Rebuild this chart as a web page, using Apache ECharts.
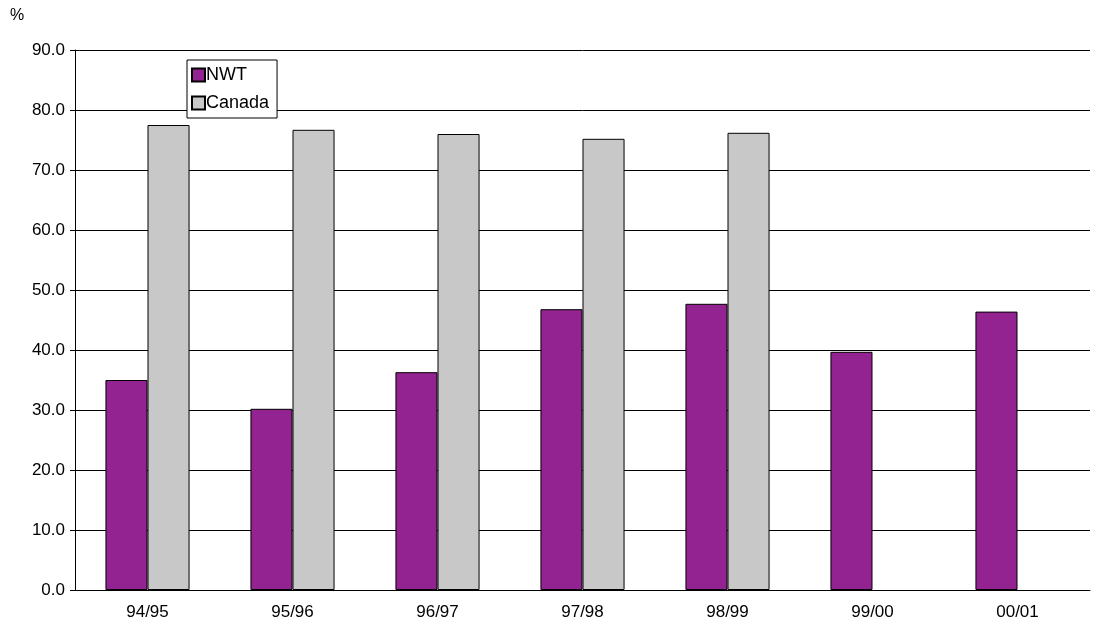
<!DOCTYPE html>
<html>
<head>
<meta charset="utf-8">
<script src="https://cdn.jsdelivr.net/npm/echarts@6/dist/echarts.min.js"></script>
<style>
  html, body { margin: 0; padding: 0; background: #fff; }
  #chart { width: 1103px; height: 633px; }
</style>
</head>
<body>
<div id="chart"></div>
<script>
var categories = ["94/95", "95/96", "96/97", "97/98", "98/99", "99/00", "00/01"];
var nwtValues = [35.0, 30.2, 36.3, 46.8, 47.7, 39.7, 46.4];
var canadaValues = [77.5, 76.7, 76.0, 75.2, 76.2, null, null];

var myChart = echarts.init(document.getElementById("chart"));
var font = "Liberation Sans, Arial, sans-serif";

var option = {
    animation: false,
    textStyle: { fontFamily: font },
    grid: { left: 75, right: 13, top: 50, bottom: 43 },
    legend: {
        orient: "vertical",
        left: 187,
        top: 60,
        padding: [6, 8, 6, 4],
        itemGap: 10,
        itemWidth: 13,
        itemHeight: 13,
        icon: "rect",
        borderColor: "#000",
        borderWidth: 1,
        backgroundColor: "#fff",
        textStyle: { fontSize: 18, color: "#000", fontFamily: font, padding: [0, 0, 0, -4] },
        data: ["NWT", "Canada"]
    },
    graphic: [{
        type: "text", left: 10, top: 8,
        style: { text: "%", fontSize: 16, fill: "#000", fontFamily: font }
    }],
    xAxis: {
        type: "category",
        data: categories,
        axisLine: { lineStyle: { color: "#000" } },
        axisTick: { lineStyle: { color: "#000" }, length: 5 },
        axisLabel: { color: "#000", fontSize: 17, margin: 14 }
    },
    yAxis: {
        type: "value",
        min: 0, max: 90, interval: 10,
        axisLine: { show: true, lineStyle: { color: "#000" } },
        axisTick: { show: true, lineStyle: { color: "#000" }, length: 5 },
        axisLabel: { color: "#000", fontSize: 17, margin: 10, formatter: function (v) { return v.toFixed(1); } },
        splitLine: { lineStyle: { color: "#000", width: 1 } }
    },
    series: [{
        name: "NWT",
        type: "bar",
        barWidth: "29%",
        barGap: "0%",
        data: nwtValues,
        itemStyle: { color: "#922390", borderColor: "#000", borderWidth: 1 }
    }, {
        name: "Canada",
        type: "bar",
        barWidth: "29%",
        data: canadaValues,
        itemStyle: { color: "#c8c8c8", borderColor: "#000", borderWidth: 1 }
    }]
};

myChart.setOption(option);
window.addEventListener("resize", function () { myChart.resize(); });
</script>
</body>
</html>
